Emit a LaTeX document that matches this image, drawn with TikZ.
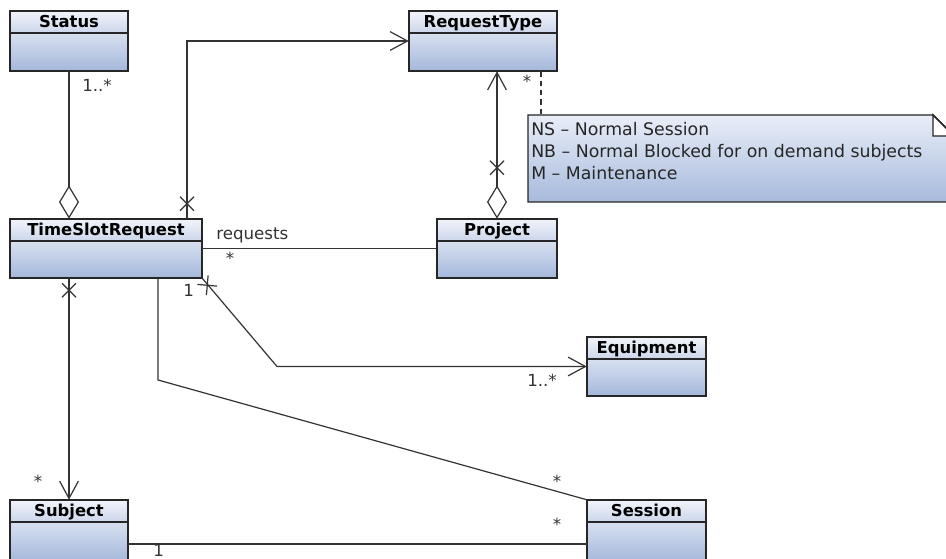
\documentclass[tikz,border=0pt]{standalone}
\usepackage{fontspec}
\setmainfont{DejaVu Sans}
\usetikzlibrary{arrows.meta,fit,calc}

\definecolor{hdtop}{HTML}{F1F4FA}
\definecolor{hdbot}{HTML}{CCD6EB}
\definecolor{bdtop}{HTML}{D8E0F0}
\definecolor{bdbot}{HTML}{A4B8DB}
\definecolor{notetop}{HTML}{E9EEF8}
\definecolor{notebot}{HTML}{A7BADC}
\definecolor{edge}{HTML}{262626}
\definecolor{wirec}{HTML}{333333}

\tikzset{
  boxline/.style={draw=edge,line width=1.1pt},
  wire/.style={draw=wirec,line width=0.9pt},
  navarrow/.style={-{Straight Barb[length=13pt,width=14pt,line width=0.9pt]}},
  aggr/.style={-{Diamond[open,length=25pt,width=15pt,line width=0.9pt]}},
  title/.style={font=\fontsize{12.3}{14}\selectfont\bfseries, text=black, inner sep=0pt, anchor=base},
  mult/.style={font=\fontsize{12.5}{14}\selectfont, text=wirec, inner sep=0pt},
  notetext/.style={font=\fontsize{13}{15}\selectfont, text=black!85, inner sep=0pt, anchor=base west},
}

% a class box: name, left, top, right, bottom, title
\newcommand\umlclass[6]{%
  \shade[top color=bdtop,bottom color=bdbot] (#2,#3+22) rectangle (#4,#5);
  \shade[top color=hdtop,bottom color=hdbot] (#2,#3) rectangle (#4,#3+22);
  \draw[boxline] (#2,#3) rectangle (#4,#5) (#2,#3+22) -- (#4,#3+22);
  \node[title] (#1-name) at ({(#2+#4)/2},#3+16.5) {#6};
  \node[fit={(#2,#3) (#4,#5)},inner sep=0pt] (#1) {};
}

% the cross that marks a non-navigable association end
\newcommand\xmark[2]{%
  \draw[wire,shift={#1},rotate=#2] (-7,-7) -- (7,7) (-7,7) -- (7,-7);
}

\begin{document}
\begin{tikzpicture}[x=0.75pt,y=-0.75pt]
\useasboundingbox (0,0) rectangle (946,559);
\fill[white] (0,0) rectangle (946,559);
\clip (0,0) rectangle (946,559);

% classes
\umlclass{status}{10}{11}{128}{71}{Status}
\umlclass{rtype}{409}{11}{557}{71}{RequestType}
\umlclass{tsr}{10}{219}{202}{278}{TimeSlotRequest}
\umlclass{proj}{437}{219}{557}{278}{Project}
\umlclass{eqp}{587}{337}{706}{396}{Equipment}
\umlclass{subj}{10}{500}{128}{561}{Subject}
\umlclass{sess}{587}{500}{706}{561}{Session}

% note with folded corner
\shade[top color=notetop,bottom color=notebot]
  (528,115) -- (933,115) -- (954,136) -- (954,202) -- (528,202) -- cycle;
\draw[boxline] (528,115) -- (933,115) -- (954,136) -- (954,202) -- (528,202) -- cycle;
\filldraw[fill=white,boxline] (933,115) -- (933,136) -- (954,136) -- cycle;
\node[fit={(528,115) (954,202)},inner sep=0pt] (note) {};
\node[notetext] (n1) at (531,136) {NS – Normal Session};
\node[notetext] (n2) at (531,158) {NB – Normal Blocked for on demand subjects};
\node[notetext] (n3) at (531,180) {M – Maintenance};

% helper columns and rows for the bent connectors
\coordinate (xa) at (187,0);
\coordinate (xb) at (277,0);
\coordinate (xc) at (158,380);
\coordinate (xd) at (541,0);
\coordinate (yl) at (0,544);

% connectors
\draw[wire,aggr] (status.south) -- (status.south |- tsr.north);
\draw[wire,navarrow] (xa |- tsr.north) |- (rtype.west);
\draw[wire,{Diamond[open,length=25pt,width=15pt,line width=0.9pt]}-{Straight Barb[length=13pt,width=14pt,line width=0.9pt]}]
  (proj.north) -- (proj.north |- rtype.south);
\draw[wire,dash pattern=on 4pt off 3pt] (xd |- rtype.south) -- (xd |- note.north);
\draw[wire] (tsr.east) -- (proj.west);
\draw[wire,navarrow] (tsr.south east) -- (xb |- eqp.west) -- (eqp.west);
\draw[wire,navarrow] (subj.north |- tsr.south) -- (subj.north);
\draw[wire] (xc |- tsr.south) -- (xc) -- (sess.north west);
\draw[wire] (subj.east |- yl) -- (sess.west |- yl);

% non-navigable ends
\xmark{($(xa |- tsr.north)+(0,-15)$)}{0}
\xmark{($(proj.north)+(0,-51)$)}{0}
\xmark{($(subj.north |- tsr.south)+(0,12)$)}{0}
\xmark{($(tsr.south east)+(5,7)$)}{-50}

% labels and multiplicities
\node[mult,anchor=base west] (m1) at (82,92) {1..*};
\node[mult,anchor=base west] (lr) at (216,240) {requests};
\node[mult] (m2) at (230,258) {*};
\node[mult] (m3) at (527,81) {*};
\node[mult,anchor=base west] (m4) at (183,297) {1};
\node[mult,anchor=base west] (m5) at (527,387) {1..*};
\node[mult] (m6) at (38,481) {*};
\node[mult] (m7) at (557,481) {*};
\node[mult] (m8) at (557,524) {*};
\node[mult,anchor=base west] (m9) at (153,556) {1};
\end{tikzpicture}
\end{document}
